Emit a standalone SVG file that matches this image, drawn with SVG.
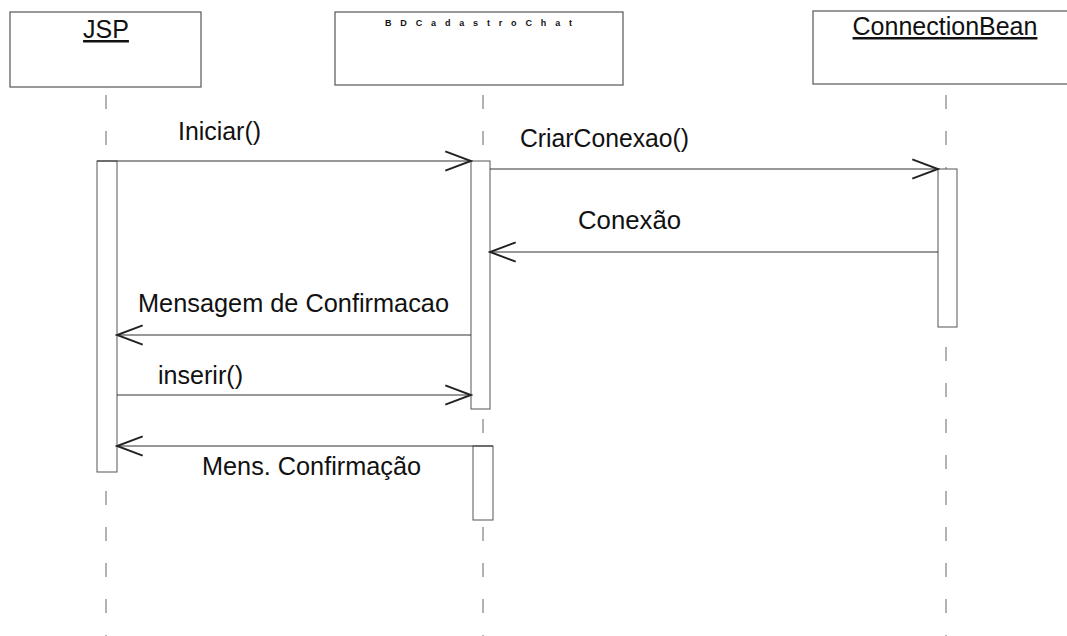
<svg xmlns="http://www.w3.org/2000/svg" width="1067" height="636" viewBox="0 0 1067 636">
<defs>
<marker id="open" markerUnits="userSpaceOnUse" markerWidth="30" markerHeight="24" viewBox="-26 -11 28 22" refX="0" refY="0" orient="auto">
<polyline points="-24,-9 0,0 -24,9" fill="none" stroke="#222" stroke-width="1.8"/>
</marker>
</defs>
<style>
.box{fill:#fff;stroke:#555;stroke-width:1.2}
.act{fill:#fff;stroke:#555;stroke-width:1}
.life{stroke:#666;stroke-width:1;stroke-dasharray:14 22}
.msg{stroke:#333;stroke-width:1.2;fill:none;marker-end:url(#open)}
.t{font-family:"Liberation Sans",Arial,sans-serif;font-size:25px;fill:#111}
.h{font-family:"Liberation Sans",Arial,sans-serif;font-size:25px;fill:#111;text-decoration:underline}
.s{font-family:"Liberation Sans",Arial,sans-serif;font-size:9px;font-weight:bold;fill:#111}
</style>
<rect width="1067" height="636" fill="#fff"/>
<g id="lifelines">
<line class="life" x1="106" y1="95" x2="106" y2="636"/>
<line class="life" x1="483" y1="95" x2="483" y2="636"/>
<line class="life" x1="946" y1="95" x2="946" y2="636"/>
</g>
<g id="jsp">
<rect class="box" x="10" y="12" width="191" height="75"/>
<text class="h" x="106" y="38" text-anchor="middle">JSP</text>
<rect class="act" x="97" y="161" width="20" height="311"/>
</g>
<g id="bdcadastrochat">
<rect class="box" x="335" y="12" width="288" height="73"/>
<text class="s" x="385" y="26" textLength="187" lengthAdjust="spacing">BDCadastroChat</text>
<rect class="act" x="471" y="161" width="19" height="248"/>
<rect class="act" x="473" y="446" width="20" height="74"/>
</g>
<g id="connectionbean">
<rect class="box" x="813" y="11" width="260" height="73"/>
<text class="h" x="945" y="35" text-anchor="middle">ConnectionBean</text>
<rect class="act" x="938" y="169" width="19" height="158"/>
</g>
<g id="connectors">
<line class="msg" x1="97" y1="161" x2="471" y2="161"/>
<line class="msg" x1="490" y1="169" x2="938" y2="169"/>
<line class="msg" x1="938" y1="252" x2="490" y2="252"/>
<line class="msg" x1="471" y1="335" x2="117" y2="335"/>
<line class="msg" x1="117" y1="395" x2="471" y2="395"/>
<line class="msg" x1="493" y1="446" x2="117" y2="446"/>
<text class="t" x="178" y="140" textLength="83" lengthAdjust="spacingAndGlyphs">Iniciar()</text>
<text class="t" x="520" y="147" textLength="169" lengthAdjust="spacingAndGlyphs">CriarConexao()</text>
<text class="t" x="578" y="229" textLength="103" lengthAdjust="spacingAndGlyphs">Conexão</text>
<text class="t" x="138" y="312" textLength="311" lengthAdjust="spacingAndGlyphs">Mensagem de Confirmacao</text>
<text class="t" x="158" y="384" textLength="85" lengthAdjust="spacingAndGlyphs">inserir()</text>
<text class="t" x="202" y="475" textLength="219" lengthAdjust="spacingAndGlyphs">Mens. Confirmação</text>
</g>
</svg>
